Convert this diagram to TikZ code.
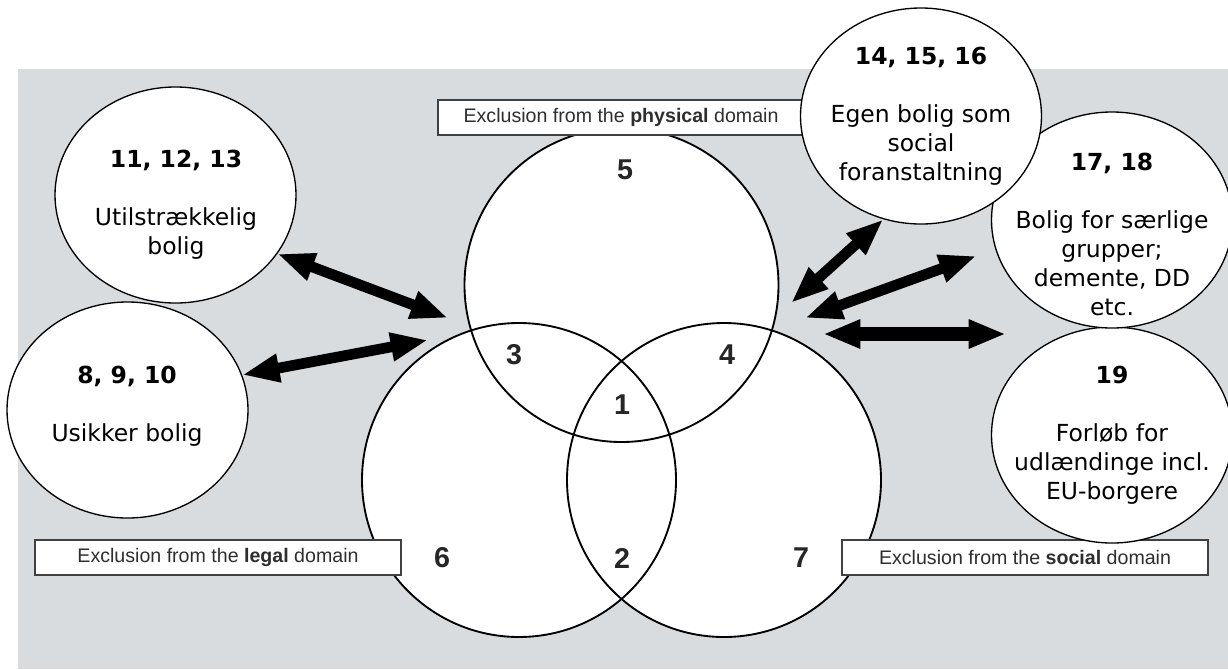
\documentclass[tikz,border=0pt]{standalone}
\usepackage{fontspec}
\setmainfont{DejaVu Sans}
\newfontfamily\helv{Liberation Sans}
\usetikzlibrary{arrows.meta,shapes.geometric}
\definecolor{bggray}{HTML}{D9DCDF}
\definecolor{labgray}{HTML}{2E2E2E}

\begin{document}
\begin{tikzpicture}[x=0.75pt,y=-0.75pt,
 venn/.style={circle,fill=white,minimum size=235.5pt,inner sep=0pt},
 vline/.style={line width=1.4pt},
 vnum/.style={font=\helv\bfseries\fontsize{21.5}{26}\selectfont,text=black!85},
 dombox/.style={draw=black!75,fill=white,line width=1pt,minimum width=274.5pt,minimum height=26.25pt,inner sep=0pt,font=\helv\fontsize{14.7}{17}\selectfont,text=labgray},
 bubble/.style={ellipse,draw,fill=white,line width=1pt,minimum width=180.75pt,minimum height=162pt,inner sep=0pt},
 bubtxt/.style={align=center,font=\fontsize{17.6}{21.75}\selectfont},
 dbl/.style={{Triangle[length=28pt,width=20pt]}-{Triangle[length=28pt,width=20pt]},line width=8pt}]
\useasboundingbox (0,0) rectangle (1228,669);
\fill[bggray] (18,69) rectangle (1228,669);

% the three domains
\foreach \n/\x/\y in {phys/621.5/285,legal/519/480,soc/724/480}
  \node[venn] (\n) at (\x,\y) {};
\foreach \n in {phys,legal,soc}
  \draw[vline] (\n.center) circle[radius=117.75pt];

\node[vnum] (r5) at (625,170) {5};
\node[vnum] (r3) at (514,355) {3};
\node[vnum] (r4) at (727,355) {4};
\node[vnum] (r1) at (622,405) {1};
\node[vnum] (r6) at (442,558) {6};
\node[vnum] (r2) at (622,558) {2};
\node[vnum] (r7) at (801,558) {7};

\node[dombox] (lphys) at (621,117.5) {Exclusion from the \textbf{physical} domain};
\node[dombox] (llegal) at (218,557.5) {Exclusion from the \textbf{legal} domain};
\node[dombox] (lsoc) at (1025,557.5) {Exclusion from the \textbf{social} domain};

% housing bubbles
\node[bubble] (b11) at (175.5,195) {};
\node[bubtxt] (t11) at (176,205) {\textbf{11, 12, 13}\\[21.75pt]Utilstrækkelig\\bolig};
\node[bubble] (b8) at (127.5,410) {};
\node[bubtxt] (t8) at (127,406) {\textbf{8, 9, 10}\\[21.75pt]Usikker bolig};
\node[bubble] (b19) at (1112,435) {};
\node[bubtxt] (t19) at (1112,435) {\textbf{19}\\[21.75pt]Forløb for\\udlændinge incl.\\EU-borgere};
\node[bubble] (b17) at (1112,220) {};
\node[bubtxt] (t17) at (1112,234) {\textbf{17, 18}\\[21.75pt]Bolig for særlige\\grupper;\\demente, DD\\etc.};
\node[bubble] (b14) at (921,116) {};
\node[bubtxt] (t14) at (921,116) {\textbf{14, 15, 16}\\[21.75pt]Egen bolig som\\social\\foranstaltning};

% arrows
\coordinate (a1) at (448,318);
\coordinate (a2) at (428,340);
\coordinate (a3) at (791,303);
\coordinate (a4) at (805,318);
\coordinate (a5) at (823,334);
\coordinate (a5r) at (1006,334);
\draw[dbl] (b11.-30) -- (a1);
\draw[dbl] (b8.17) -- (a2);
\draw[dbl] (b14.-110) -- (a3);
\draw[dbl,shorten <=15pt] (b17.194) -- (a4);
\draw[dbl,line width=10.5pt] (a5) -- (a5r);
\end{tikzpicture}
\end{document}
